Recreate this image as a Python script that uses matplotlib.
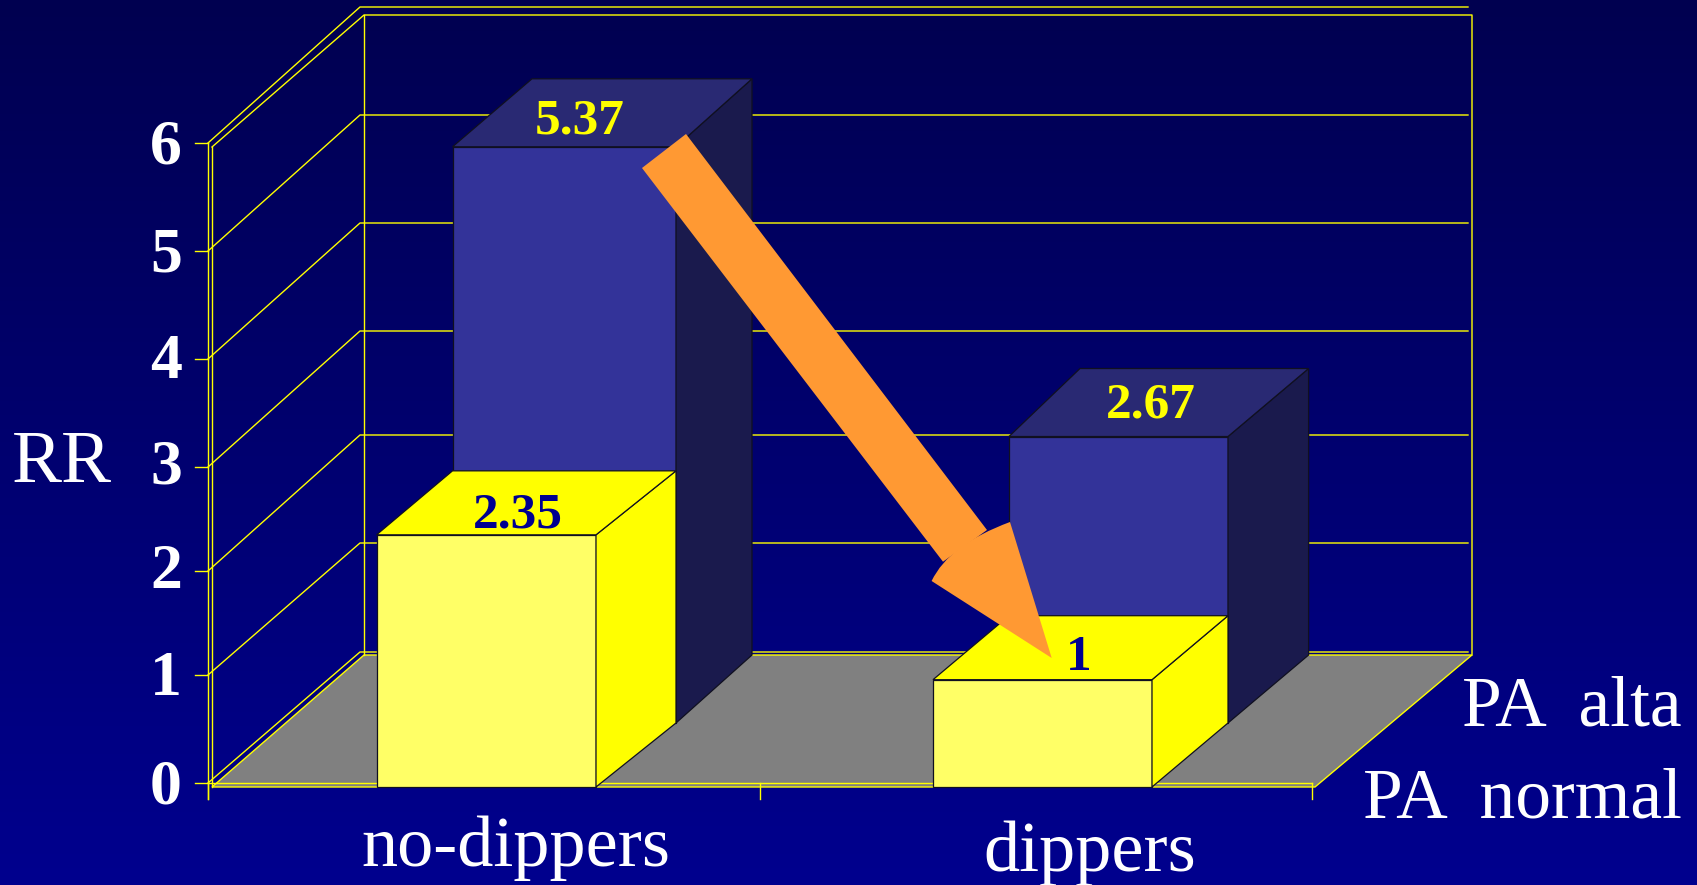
import numpy as np
import matplotlib
matplotlib.use('Agg')
import matplotlib.pyplot as plt
from matplotlib.patches import PathPatch, Polygon
from matplotlib.path import Path

categories = ['no-dippers', 'dippers']
series_names = ['PA normal', 'PA alta']
pa_normal = [2.35, 1]
pa_alta = [5.37, 2.67]
value_labels_normal = ['2.35', '1']
value_labels_alta = ['5.37', '2.67']
y_ticks = [0, 1, 2, 3, 4, 5, 6]

W, H = 1697, 885
SERIF = 'Liberation Serif'
LINE = '#FFFF00'
WHITE = '#FFFFFF'

# pixel rows of the value ticks on the side wall and on the back wall,
# the slide's renderer snapped these unevenly
FRONT_ROWS = [783, 675, 571, 467, 359, 251, 143]
BACK_ROWS = [652, 543, 435, 331, 223, 115, 7]
TICK_BASELINES = [803, 695, 588, 484, 378, 272, 163]

BAR_Y0 = 787
BAR_UNIT = 107.3
ROW_LIFT = [0, 64, 132]

# bar edges at the front, middle and back depth planes, per category
BAR_LEFT = [[376.5, 452.5, 532], [933, 1009, 1080]]
BAR_RIGHT = [[596, 676, 752], [1152, 1228, 1308.6]]

YELLOW = ['#FFFF66', '#FFFF00', '#FFFF00']
BLUE = ['#333399', '#1A1A4D', '#292973']


def bar_y(value, row):
    return BAR_Y0 - ROW_LIFT[row] - value * BAR_UNIT


def draw_bar(ax, cat, row, value, colors, z):
    left, right = BAR_LEFT[cat], BAR_RIGHT[cat]
    y0f, y1f = bar_y(0, row), bar_y(value, row)
    y0b, y1b = bar_y(0, row + 1), bar_y(value, row + 1)
    xl, xr = left[row], right[row]
    xlb, xrb = left[row + 1], right[row + 1]
    faces = [
        ([(xl, y0f), (xr, y0f), (xr, y1f), (xl, y1f)], colors[0]),
        ([(xr, y0f), (xrb, y0b), (xrb, y1b), (xr, y1f)], colors[1]),
        ([(xl, y1f), (xr, y1f), (xrb, y1b), (xlb, y1b)], colors[2]),
    ]
    for pts, c in faces:
        ax.add_patch(Polygon(pts, closed=True, facecolor=c, edgecolor='#101020',
                             lw=0.9, zorder=z))


fig = plt.figure(figsize=(W / 100, H / 100), dpi=100)
ax = fig.add_axes([0, 0, 1, 1])
ax.set_xlim(0, W)
ax.set_ylim(H, 0)
ax.axis('off')

# background gradient
grad = np.linspace(0, 1, 256).reshape(-1, 1)
bg = np.zeros((256, 1, 3))
bg[..., 2] = (80 + grad * 62) / 255
ax.imshow(bg, extent=[0, W, H, 0], aspect='auto', zorder=0)

# floor
ax.add_patch(Polygon([(212, 787), (364, 655), (1472, 655), (1315, 787)], closed=True,
                     facecolor='#808080', edgecolor=LINE, lw=1.0, zorder=1))

# gridlines on the side and back walls
for i, v in enumerate(y_ticks):
    yf, yb = FRONT_ROWS[i], BACK_ROWS[i]
    ax.plot([195, 208], [yf, yf], color=LINE, lw=1.0, zorder=2)
    ax.plot([208, 360, 1468], [yf, yb, yb], color=LINE, lw=1.0, zorder=2)
    ax.text(182, TICK_BASELINES[i], str(v), family=SERIF, weight='bold', fontsize=46,
            color=WHITE, ha='right', va='baseline', zorder=5)

# box frame
ax.plot([208, 208], [FRONT_ROWS[-1], 799], color=LINE, lw=1.0, zorder=2)
ax.plot([212, 212], [147, 787], color=LINE, lw=1.0, zorder=2)
ax.plot([212, 364, 1472, 1472], [147, 15, 15, 655], color=LINE, lw=1.0, zorder=2)
ax.plot([364, 364], [15, 655], color=LINE, lw=1.0, zorder=2)
ax.plot([208, 1312], [FRONT_ROWS[0], FRONT_ROWS[0]], color=LINE, lw=1.0, zorder=2)
for x in (208, 760, 1312):
    ax.plot([x, x], [783, 799], color=LINE, lw=1.0, zorder=2)

# bars, back row first
for i in range(len(categories)):
    draw_bar(ax, i, 1, pa_alta[i], BLUE, 3 + i * 0.1)
    draw_bar(ax, i, 0, pa_normal[i], YELLOW, 3.05 + i * 0.1)

# value labels sitting on the bar tops
label_x_alta = [580, 1151]
label_up_alta = [13, 19]
label_x_normal = [518, 1078.6]
label_up_normal = [7, 10]
for i in range(len(categories)):
    ax.text(label_x_alta[i], bar_y(pa_alta[i], 1) - label_up_alta[i], value_labels_alta[i],
            family=SERIF, weight='bold', fontsize=37, color=LINE,
            ha='center', va='baseline', zorder=4)
    ax.text(label_x_normal[i], bar_y(pa_normal[i], 0) - label_up_normal[i], value_labels_normal[i],
            family=SERIF, weight='bold', fontsize=37, color='#000090',
            ha='center', va='baseline', zorder=4)

# orange arrow pasted over the chart
ORANGE = '#FF9933'
shaft = [(642, 168), (686, 134), (987, 530), (943, 561.7)]
ax.add_patch(Polygon(shaft, closed=True, facecolor=ORANGE, edgecolor='none', zorder=6))
head = Path([(1010, 522), (1051.7, 658), (931.6, 581), (949, 544.5), (1010, 522)],
            [Path.MOVETO, Path.LINETO, Path.LINETO, Path.CURVE3, Path.CURVE3])
ax.add_patch(PathPatch(head, facecolor=ORANGE, edgecolor='none', zorder=6))

# axis text
ax.text(62, 482, 'RR', family=SERIF, fontsize=54, color=WHITE, ha='center', va='baseline')
ax.text(516, 866, categories[0], family=SERIF, fontsize=52, color=WHITE, ha='center', va='baseline')
ax.text(1089.6, 871, categories[1], family=SERIF, fontsize=52, color=WHITE, ha='center', va='baseline')
ax.text(1682, 726, 'PA  alta', family=SERIF, fontsize=51.5, color=WHITE, ha='right', va='baseline')
ax.text(1682, 817, 'PA  normal', family=SERIF, fontsize=51.5, color=WHITE, ha='right', va='baseline')

fig.savefig('out.png', dpi=100)
